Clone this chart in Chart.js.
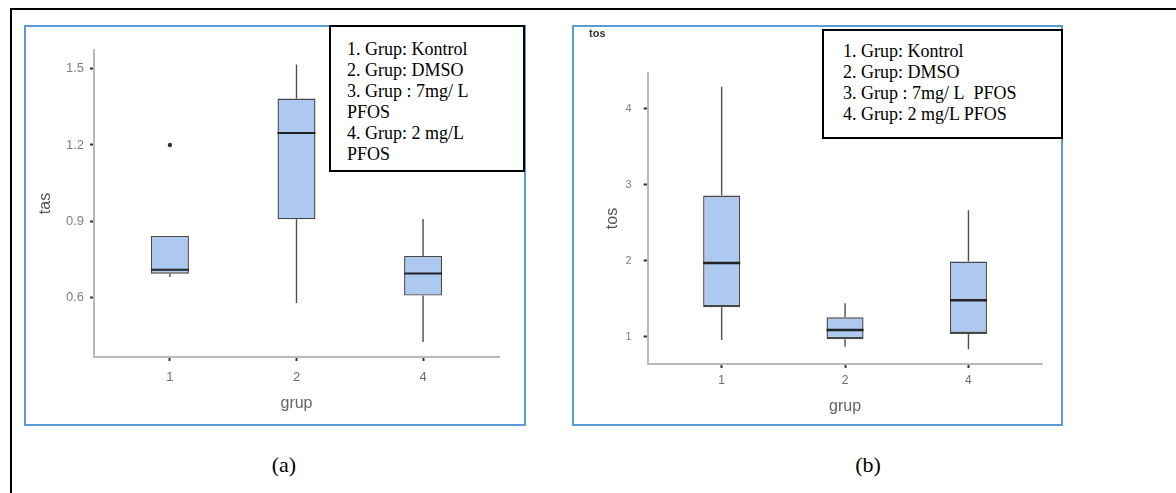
<!DOCTYPE html>
<html>
<head>
<meta charset="utf-8">
<title>tas / tos boxplot</title>
<script src="https://cdn.jsdelivr.net/npm/chart.js@4.4.1/dist/chart.umd.min.js"></script>
<style>
	html, body { margin: 0; padding: 0; background: #fff; }
	body { width: 1176px; height: 493px; position: relative; overflow: hidden; }
	.frame { position: absolute; left: 10px; top: 8px; width: 1300px; height: 600px; border: 2px solid #000; box-sizing: border-box; }
	.panel { position: absolute; border: 2px solid #5b9bd5; box-sizing: border-box; }
	canvas { position: absolute; }
	.note { position: absolute; border: 2px solid #000; background: #fff; box-sizing: border-box;
		font-family: 'Liberation Serif', 'Times New Roman', serif; font-size: 18px; line-height: 21px; color: #000; white-space: nowrap; }
	.cap { position: absolute; width: 100px; text-align: center; font-family: 'Liberation Serif', serif; font-size: 22px; line-height: 26px; color: #000; }
</style>
</head>
<body>
<div class="frame"></div>

<div class="panel" style="left:24px; top:25px; width:502px; height:401px;"></div>
<canvas id="canTas" width="498" height="396" style="left:26px; top:27px;"></canvas>
<div class="note" style="left:329px; top:25px; width:196px; height:147px; padding:12px 0 0 16px;">
	1. Grup: Kontrol<br>2. Grup: DMSO<br>3. Grup : 7mg/ L<br>PFOS<br>4. Grup: 2 mg/L<br>PFOS
</div>
<div class="cap" style="left:234px; top:452px;">(a)</div>

<div class="panel" style="left:572px; top:25px; width:491px; height:401px;"></div>
<canvas id="canTos" width="486" height="397" style="left:575px; top:27px;"></canvas>
<div class="note" style="left:822px; top:29px; width:241px; height:110px; padding:10px 0 0 19px;">
	1. Grup: Kontrol<br>2. Grup: DMSO<br>3. Grup : 7mg/ L&nbsp; PFOS<br>4. Grup: 2 mg/L PFOS
</div>
<div class="cap" style="left:818px; top:452px;">(b)</div>

<script>
'use strict'

//////////////////////////////////////////////////////////////////////
// data

// groups on the x axis: position and printed label
const groupPos = [1, 2, 3];
const groupLabel = ['1', '2', '4'];

// (a) tas
const tasLow = [0.680, 0.578, 0.424];
const tasQ1 = [0.693, 0.907, 0.607];
const tasMedian = [0.709, 1.247, 0.694];
const tasQ3 = [0.842, 1.383, 0.763];
const tasHigh = [0.842, 1.517, 0.908];
const tasOutGroup = [1];
const tasOutValue = [1.2];
const tasTicks = [0.6, 0.9, 1.2, 1.5];

// (b) tos
const tosLow = [0.957, 0.868, 0.834];
const tosQ1 = [1.388, 0.966, 1.035];
const tosMedian = [1.970, 1.088, 1.480];
const tosQ3 = [2.860, 1.256, 1.990];
const tosHigh = [4.294, 1.440, 2.665];
const tosOutGroup = [];
const tosOutValue = [];
const tosTicks = [1, 2, 3, 4];


// box width in x units (ggplot width=0.3)
const BOX_W = 0.3;
const BOX_FILL = '#adc9f0';
const BOX_LINE = '#474747';


window.addEventListener('DOMContentLoaded', function () {

	//----------------------------------------------------------------------------------------------
	/**
	 * build boxplot datasets from the arrays and draw them
	 */
	let makeBoxChart = function (canvasId, d, o) {
		let whisker = [];
		let boxes = [];
		let medians = [];
		let outliers = [];

		groupPos.forEach((x, i) => {
			whisker.push({ x: x, y: d.low[i] }, { x: x, y: d.q1[i] }, { x: x, y: null },
				{ x: x, y: d.q3[i] }, { x: x, y: d.high[i] }, { x: x, y: null });
			boxes.push({ x: x, y: [d.q1[i], d.q3[i]] });
			medians.push({ x: x - BOX_W / 2, y: d.median[i] }, { x: x + BOX_W / 2, y: d.median[i] }, { x: x, y: null });
		});
		d.outGroup.forEach((g, i) => {
			outliers.push({ x: groupPos[g - 1], y: d.outValue[i] });
		});

		let ctx = document.getElementById(canvasId).getContext('2d');

		return new Chart(ctx, {
			type: 'bar',
			data: {
				datasets: [
					{ type: 'scatter', data: outliers, pointRadius: 2.2, backgroundColor: '#333', borderWidth: 0, order: 0 },
					{ type: 'line', data: medians, borderColor: '#232323', borderWidth: o.medianWidth, pointRadius: 0, spanGaps: false, order: 1 },
					{ type: 'bar', data: boxes, backgroundColor: BOX_FILL, borderColor: BOX_LINE,
						borderWidth: { top: 1.4, left: 1.4, right: 1.4, bottom: o.boxBottom },
						borderSkipped: false, barPercentage: BOX_W, categoryPercentage: 1, order: 2 },
					{ type: 'line', data: whisker, borderColor: '#505050', borderWidth: 1.4, pointRadius: 0, spanGaps: false, order: 3 }
				]
			},
			options: {
				responsive: false,
				devicePixelRatio: 1,
				animation: false,
				events: [],
				layout: { padding: o.padding },
				plugins: {
					legend: { display: false },
					tooltip: { enabled: false },
					title: o.title
				},
				scales: {
					x: {
						type: 'linear', min: 0.4, max: 3.6, offset: false,
						afterBuildTicks: (s) => { s.ticks = groupPos.map(v => ({ value: v })); },
						afterFit: (s) => { s.height = o.xHeight; },
						ticks: {
							callback: (v, i) => groupLabel[i],
							color: '#6a6a7a', font: { family: 'Liberation Sans', size: o.xTickSize }, padding: o.xTickPad, maxRotation: 0
						},
						grid: { display: true, drawOnChartArea: false, offset: false, tickLength: 4, tickColor: '#333', tickWidth: 2 },
						border: { display: true, color: '#b9b9b9', width: 2 },
						title: { display: true, text: 'grup', color: '#666', font: { family: 'Liberation Sans', size: 16 }, padding: { top: 0, bottom: o.xTitlePad } }
					},
					y: {
						type: 'linear', min: o.yMin, max: o.yMax,
						afterBuildTicks: (s) => { s.ticks = o.yTicks.map(v => ({ value: v })); },
						afterFit: (s) => { s.width = o.yWidth; },
						ticks: {
							callback: o.yFormat,
							color: '#7f7f7f', font: { family: 'Liberation Sans', size: o.yTickSize }, padding: o.yTickPad
						},
						grid: { display: true, drawOnChartArea: false, tickLength: 4, tickColor: '#333', tickWidth: 2 },
						border: { display: true, color: '#b9b9b9', width: 2 },
						title: { display: true, text: o.yTitle, color: '#555', font: { family: 'Liberation Sans', size: 16 }, padding: { top: o.yTitlePad, bottom: 0 } }
					}
				}
			}
		});
	};


	//----------------------------------------------------------------------------------------------
	// (a) tas
	makeBoxChart('canTas',
		{ low: tasLow, q1: tasQ1, median: tasMedian, q3: tasQ3, high: tasHigh, outGroup: tasOutGroup, outValue: tasOutValue },
		{
			padding: { left: 5, right: 25, top: 23, bottom: 0 },
			title: { display: false },
			xHeight: 66, xTickPad: 9, xTitlePad: 10,
			yWidth: 63, yTickPad: 6, yTitlePad: 5,
			xTickSize: 13, yTickSize: 13,
			medianWidth: 2, boxBottom: 1.4,
			yMin: 0.365, yMax: 1.574, yTicks: tasTicks,
			yFormat: (v) => v.toFixed(1),
			yTitle: 'tas'
		});

	// (b) tos
	makeBoxChart('canTos',
		{ low: tosLow, q1: tosQ1, median: tosMedian, q3: tosQ3, high: tosHigh, outGroup: tosOutGroup, outValue: tosOutValue },
		{
			padding: { left: 14, right: 18.5, top: 0, bottom: 0 },
			title: { display: true, text: 'tos', align: 'start', color: '#333', font: { family: 'Liberation Sans', size: 11, weight: 'bold' }, padding: { top: 0, bottom: 32.8 } },
			xHeight: 60, xTickPad: 5, xTitlePad: 7.7,
			yWidth: 58.6, yTickPad: 12, yTitlePad: 14.4,
			xTickSize: 12, yTickSize: 11,
			medianWidth: 2.4, boxBottom: 2.6,
			yMin: 0.64, yMax: 4.474, yTicks: tosTicks,
			yFormat: (v) => String(v),
			yTitle: 'tos'
		});
});
</script>
</body>
</html>
